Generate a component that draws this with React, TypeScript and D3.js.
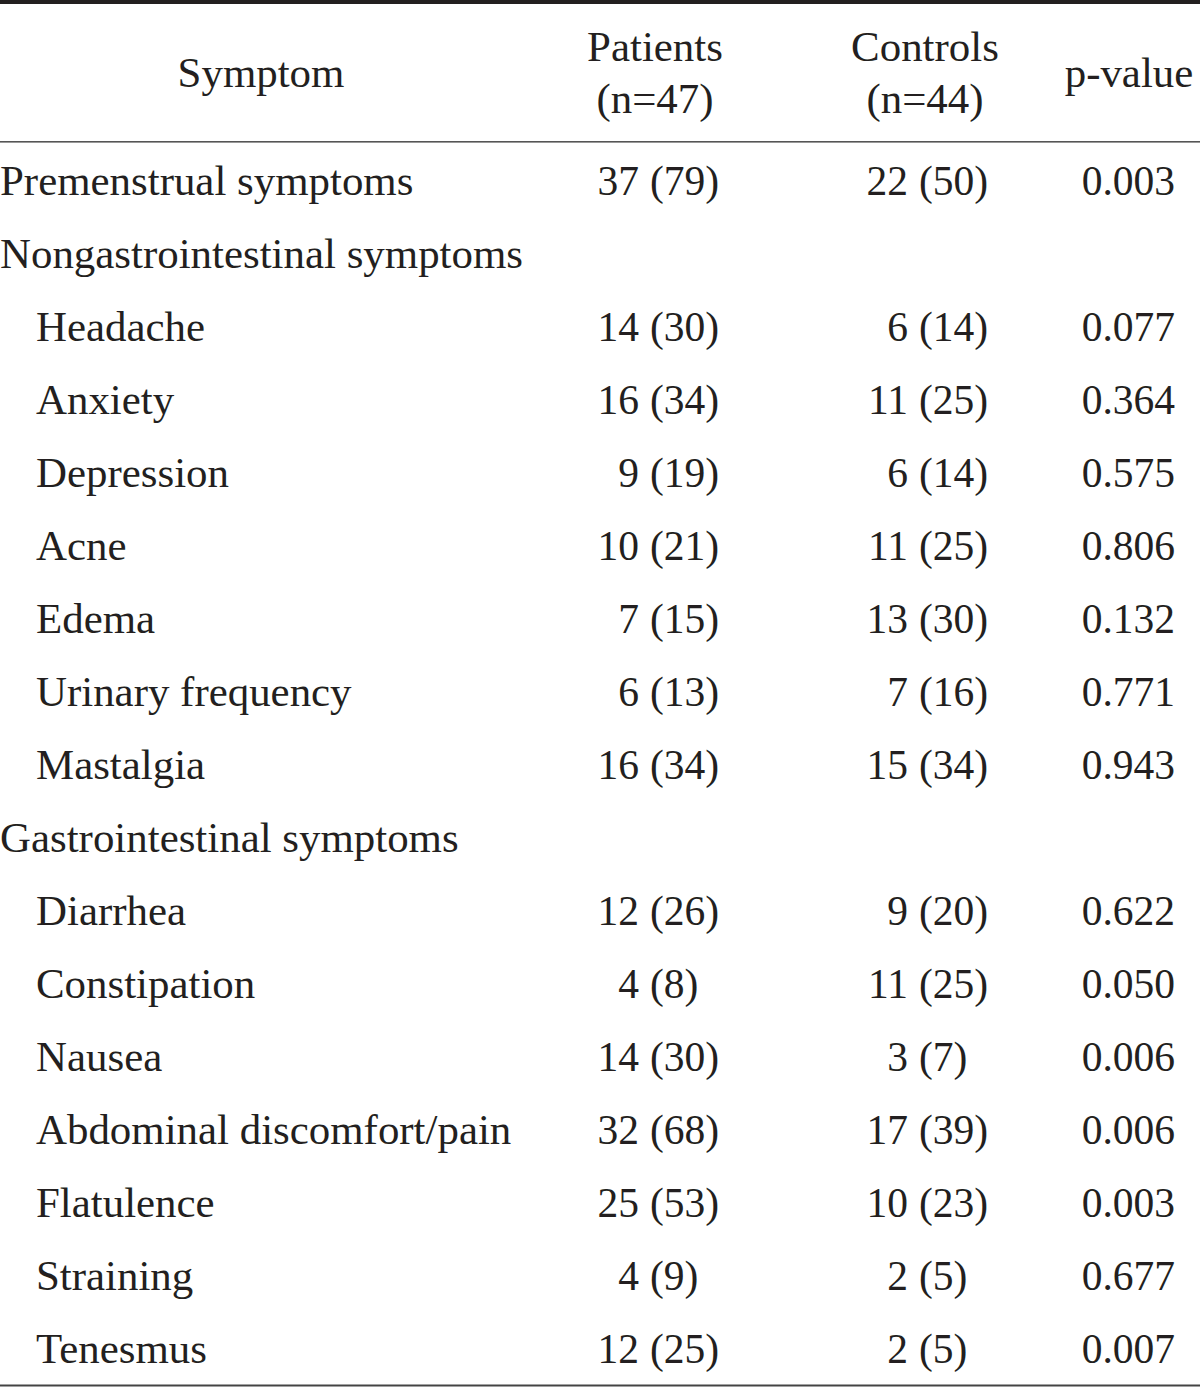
import React from "react";
import * as d3 from "d3";

const symptoms = [
  "Premenstrual symptoms",
  "Nongastrointestinal symptoms",
  "Headache",
  "Anxiety",
  "Depression",
  "Acne",
  "Edema",
  "Urinary frequency",
  "Mastalgia",
  "Gastrointestinal symptoms",
  "Diarrhea",
  "Constipation",
  "Nausea",
  "Abdominal discomfort/pain",
  "Flatulence",
  "Straining",
  "Tenesmus",
];
const indented = [false, false, true, true, true, true, true, true, true, false, true, true, true, true, true, true, true];
const patientsN: (number | null)[] = [37, null, 14, 16, 9, 10, 7, 6, 16, null, 12, 4, 14, 32, 25, 4, 12];
const patientsPct: (number | null)[] = [79, null, 30, 34, 19, 21, 15, 13, 34, null, 26, 8, 30, 68, 53, 9, 25];
const controlsN: (number | null)[] = [22, null, 6, 11, 6, 11, 13, 7, 15, null, 9, 11, 3, 17, 10, 2, 2];
const controlsPct: (number | null)[] = [50, null, 14, 25, 14, 25, 30, 16, 34, null, 20, 25, 7, 39, 23, 5, 5];
const pValues: (string | null)[] = ["0.003", null, "0.077", "0.364", "0.575", "0.806", "0.132", "0.771", "0.943", null, "0.622", "0.050", "0.006", "0.006", "0.003", "0.677", "0.007"];

const headerSymptom = "Symptom";
const headerPatients = ["Patients", "(n=47)"];
const headerControls = ["Controls", "(n=44)"];
const headerP = "p-value";

export default function App() {
  const W = 1200;
  const H = 1387;
  const ink = "#231f20";
  const font = "'Liberation Serif', 'Times New Roman', serif";
  const fsNum = 41.5;
  const fsText = 42.9;

  const y = d3.scaleLinear().domain([0, symptoms.length - 1]).range([195, 1363]);
  const xLabel = (ind: boolean) => (ind ? 36 : 0);
  const pParen = 650;
  const cParen = 919;
  const gap = 11;
  const pRight = 1175;

  return (
    <svg
      width={W}
      height={H}
      style={{ position: "absolute", left: 0, top: 0, background: "#fff" }}
      fontFamily={font}
      fontSize={fsNum}
      fill={ink}
    >
      <rect x={0} y={0} width={W} height={H} fill="#fff" />
      <rect x={0} y={0} width={W} height={4} fill={ink} />
      <rect x={0} y={141} width={W} height={1.6} fill="#555" />
      <rect x={0} y={1384.5} width={W} height={2} fill="#444" />

      <g fontSize={fsText}>
        <text x={261} y={87} textAnchor="middle">{headerSymptom}</text>
        <text x={655} y={61} textAnchor="middle">{headerPatients[0]}</text>
        <text x={655} y={113} textAnchor="middle">{headerPatients[1]}</text>
        <text x={925} y={61} textAnchor="middle">{headerControls[0]}</text>
        <text x={925} y={113} textAnchor="middle">{headerControls[1]}</text>
        <text x={1129} y={87} textAnchor="middle">{headerP}</text>
      </g>

      {symptoms.map((s, i) => (
        <g key={s}>
          <text x={xLabel(indented[i])} y={y(i)} fontSize={fsText}>{s}</text>
          {patientsN[i] !== null && (
            <>
              <text x={pParen - gap} y={y(i)} textAnchor="end">{patientsN[i]}</text>
              <text x={pParen} y={y(i)}>{`(${patientsPct[i]})`}</text>
              <text x={cParen - gap} y={y(i)} textAnchor="end">{controlsN[i]}</text>
              <text x={cParen} y={y(i)}>{`(${controlsPct[i]})`}</text>
              <text x={pRight} y={y(i)} textAnchor="end">{pValues[i]}</text>
            </>
          )}
        </g>
      ))}
    </svg>
  );
}
